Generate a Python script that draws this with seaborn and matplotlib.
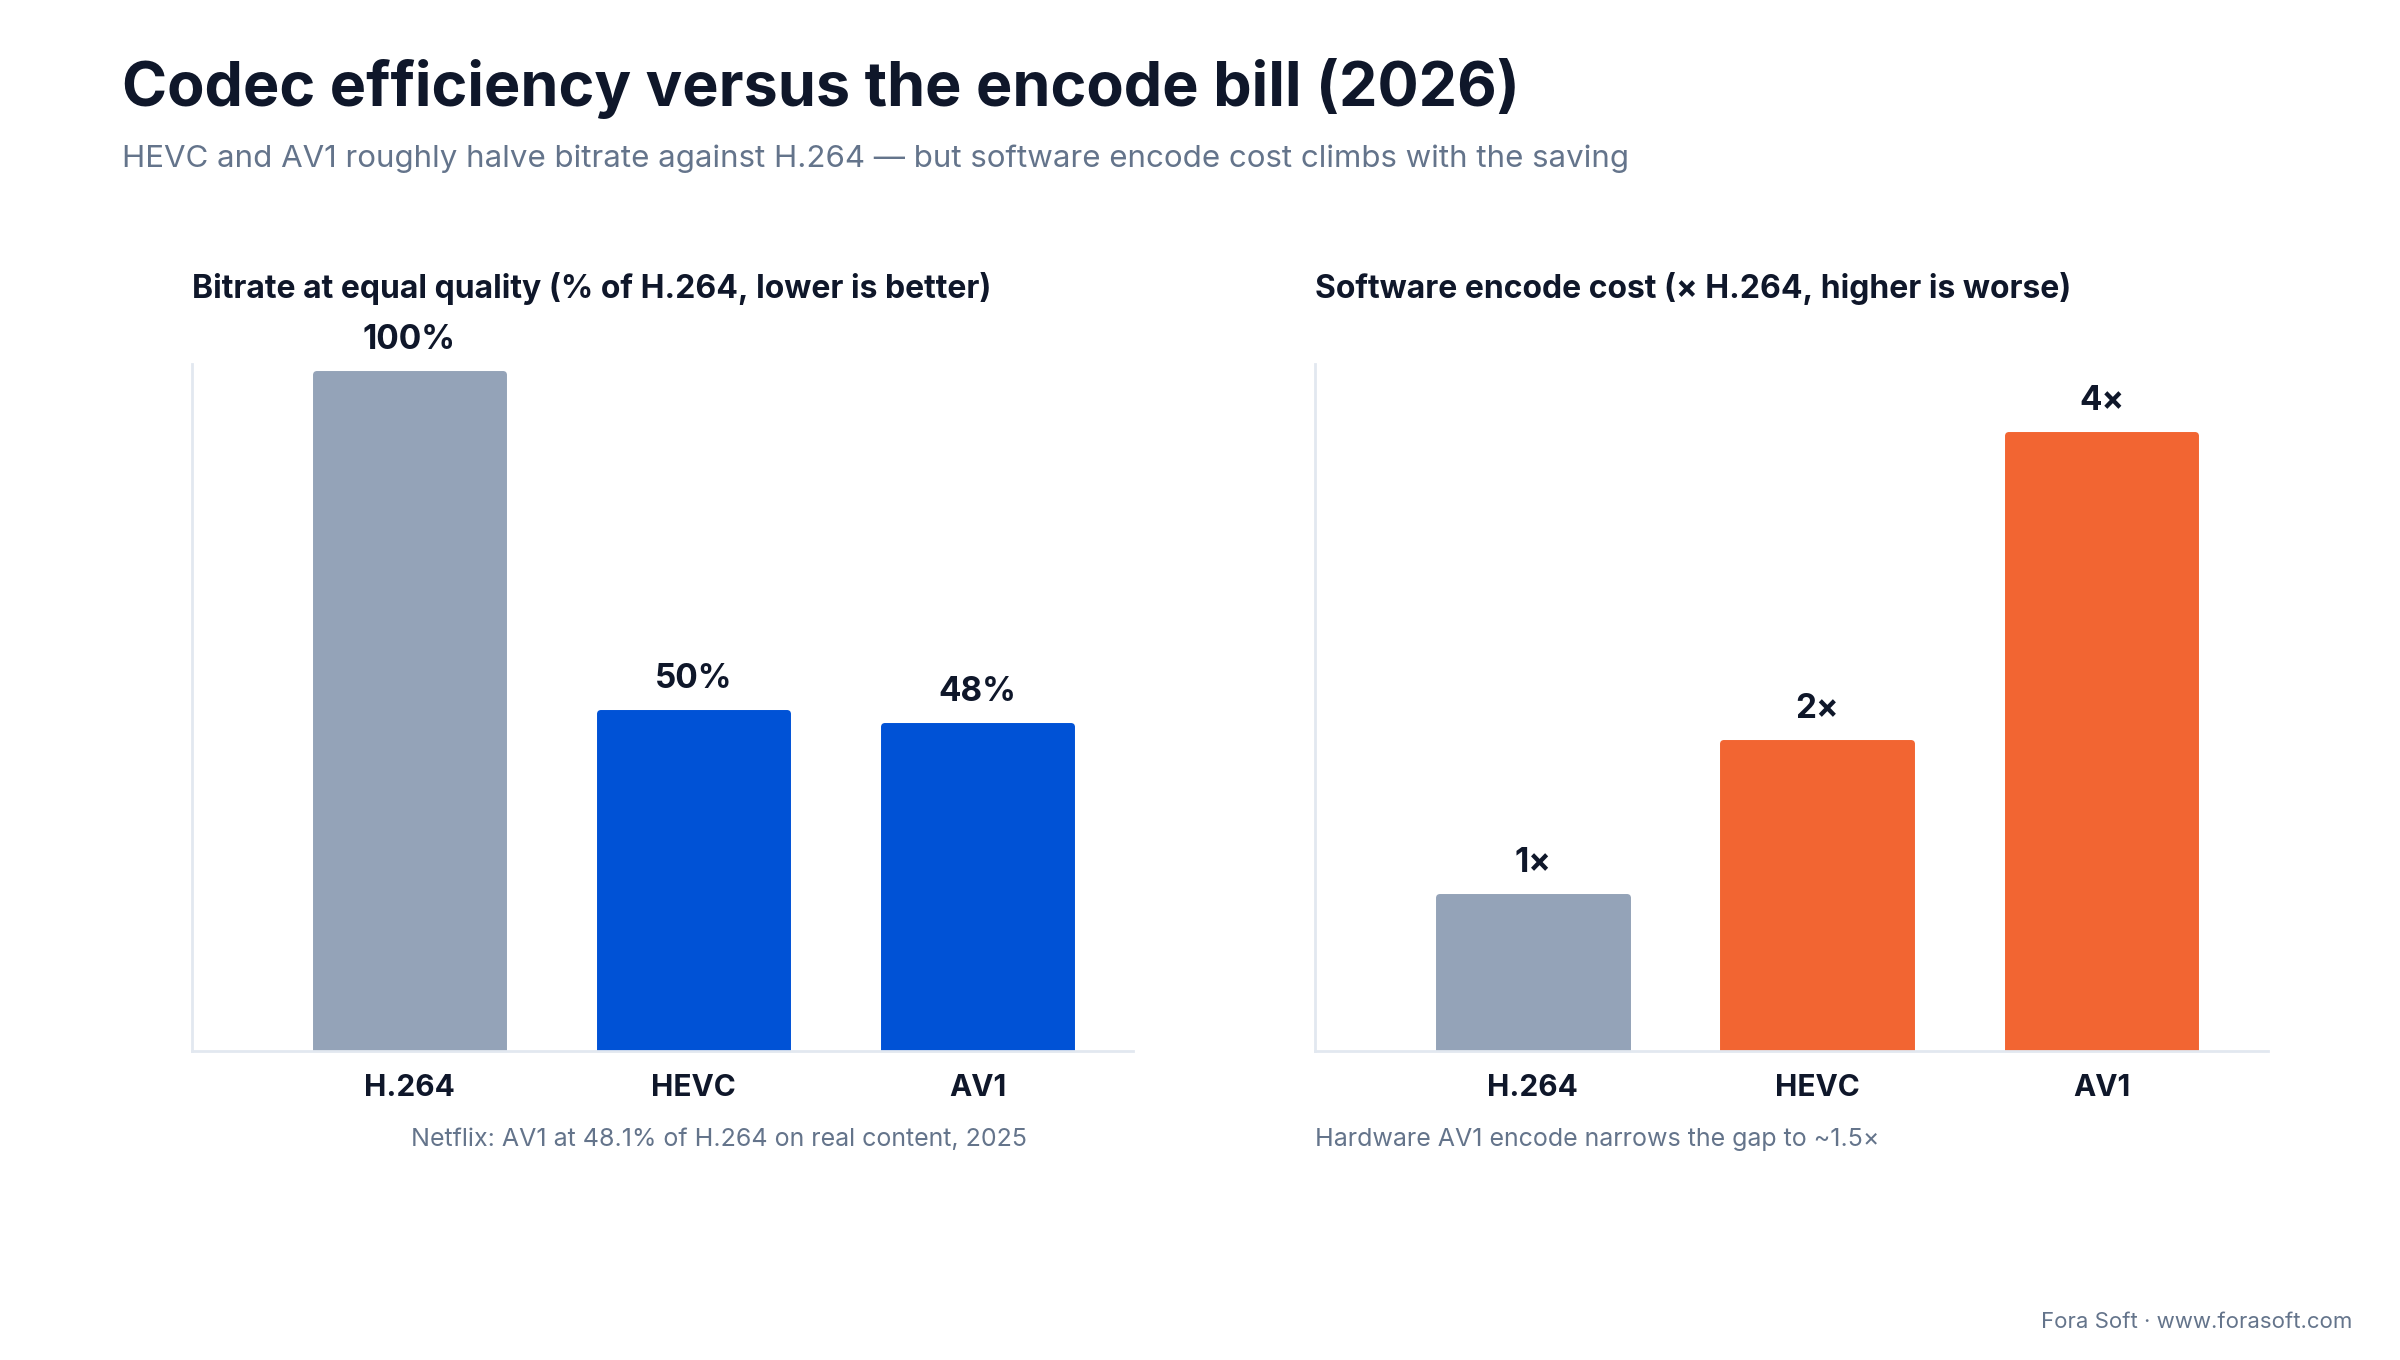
import matplotlib
matplotlib.use("Agg")
import matplotlib.pyplot as plt
import seaborn as sns
import pandas as pd

codecs = ["H.264", "HEVC", "AV1"]
bitrate_pct = [100, 50, 48]
bitrate_labels = ["100%", "50%", "48%"]
encode_cost = [1, 2, 4]
cost_labels = ["1×", "2×", "4×"]
bitrate_colors = ["#94A3B8", "#0052D6", "#0052D6"]
cost_colors = ["#94A3B8", "#F26532", "#F26532"]

sns.set_theme(style="white")
plt.rcParams['font.family'] = ['Inter', 'DejaVu Sans']
DARK = "#0F172A"
GREY = "#64748B"
SPINE = "#E2E8F0"

fig = plt.figure(figsize=(24, 13.6), dpi=100)
fig.patch.set_facecolor("white")

fig.text(0.051, 0.935, "Codec efficiency versus the encode bill (2026)", fontsize=44,
         fontweight="bold", color=DARK, va="center", ha="left")
fig.text(0.051, 0.883, "HEVC and AV1 roughly halve bitrate against H.264 — but software encode cost climbs with the saving",
         fontsize=22.5, color=GREY, va="center", ha="left")

def panel(rect, vals, labels, colors, ylim, xlim, title, note, note_x, note_ha):
    ax = fig.add_axes(rect)
    df = pd.DataFrame({"codec": codecs, "v": vals})
    sns.barplot(data=df, x="codec", y="v", hue="codec", palette=colors, legend=False,
                width=0.66, ax=ax, saturation=1)
    for p in ax.patches:
        p.set_linewidth(5)
        p.set_edgecolor(p.get_facecolor())
        p.set_joinstyle("round")
    for i, (v, l) in enumerate(zip(vals, labels)):
        ax.annotate(l, (i, v), xytext=(0, 13), textcoords="offset points", ha="center",
                    va="bottom", fontsize=24, fontweight="bold", color=DARK)
    ax.set_ylim(*ylim)
    ax.set_xlim(*xlim)
    ax.set_yticks([])
    ax.set_xlabel("")
    ax.set_ylabel("")
    ax.tick_params(axis="x", length=0, pad=16, labelsize=21.5, labelcolor=DARK)
    for t in ax.get_xticklabels():
        t.set_fontweight("bold")
    for s in ["top", "right"]:
        ax.spines[s].set_visible(False)
    for s in ["left", "bottom"]:
        ax.spines[s].set_color(SPINE)
        ax.spines[s].set_linewidth(2)
    ax.text(0, 1.11, title, transform=ax.transAxes, fontsize=23, fontweight="bold",
            color=DARK, ha="left", va="center")
    ax.text(note_x, -0.128, note, transform=ax.transAxes, fontsize=18, color=GREY,
            ha=note_ha, va="center")
    return ax

panel([0.080, 0.227, 0.392, 0.505], bitrate_pct, bitrate_labels, bitrate_colors,
      (0, 101.4), (-0.765, 2.546), "Bitrate at equal quality (% of H.264, lower is better)",
      "Netflix: AV1 at 48.1% of H.264 on real content, 2025", 0.56, "center")
panel([0.548, 0.227, 0.397, 0.505], encode_cost, cost_labels, cost_colors,
      (0, 4.46), (-0.765, 2.585), "Software encode cost (× H.264, higher is worse)",
      "Hardware AV1 encode narrows the gap to ~1.5×", 0.0, "left")

fig.text(0.98, 0.028, "Fora Soft · www.forasoft.com", fontsize=16, color=GREY, ha="right", va="center")
fig.savefig("out.png", dpi=100, facecolor="white")
